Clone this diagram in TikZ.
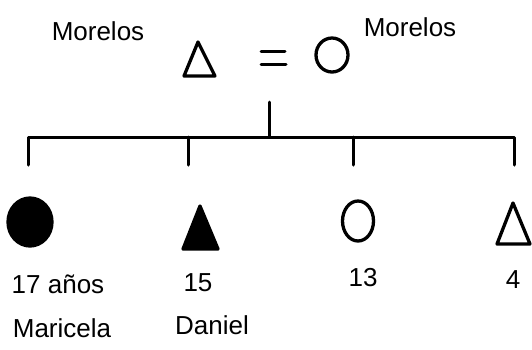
\documentclass[tikz,border=0pt]{standalone}
\usepackage{fontspec}
\setmainfont{Liberation Sans}
\usetikzlibrary{shapes.geometric}
\begin{document}
\begin{tikzpicture}[x=1pt,y=-1pt,line width=3pt,line join=round,line cap=round,
  lbl/.style={font=\fontsize{26}{28}\selectfont,inner sep=0pt},
  symb/.style={draw,line width=3.3pt,inner sep=0pt},
  female/.style={symb,ellipse},
  tree/.style={line width=3pt}]
\useasboundingbox (0,0) rectangle (532,349);
% parents
\draw[symb] (198,42) coordinate (fa) -- (215,76) coordinate (fb) -- (184,76) coordinate (fc) -- cycle;
\node[female,minimum width=32pt,minimum height=34pt] (mother) at (332,55) {};
\coordinate (eqa) at (261,51); \coordinate (eqb) at (285,51);
\coordinate (eqc) at (261,64); \coordinate (eqd) at (286,64);
\draw (eqa) -- (eqb) (eqc) -- (eqd);
\node[lbl] (m1) at (98,31) {Morelos};
\node[lbl] (m2) at (410,27) {Morelos};
% tree
\coordinate (top) at (269,102);
\coordinate (mid) at (269,137);
\coordinate (h1) at (28,137);  \coordinate (h4) at (514,137);
\coordinate (h2) at (188,137); \coordinate (h3) at (353,137);
\coordinate (d1) at (28,165);  \coordinate (d2) at (188,165);
\coordinate (d3) at (353,165); \coordinate (d4) at (514,165);
\draw[tree] (top) -- (mid);
\draw[tree] (d1) -- (h1) -- (h4) -- (d4);
\draw[tree] (h2) -- (d2);
\draw[tree] (h3) -- (d3);
% children
\node[female,fill=black,minimum width=44pt,minimum height=48pt] (c1) at (30,222) {};
\draw[symb,fill=black] (200,206) coordinate (c2a) -- (218,249) coordinate (c2b) -- (183,249) coordinate (c2c) -- cycle;
\node[female,minimum width=31pt,minimum height=40pt] (c3) at (358,221) {};
\draw[symb] (513,203) coordinate (c4a) -- (530,244) coordinate (c4b) -- (497,244) coordinate (c4c) -- cycle;
% labels
\node[lbl] (l1) at (58,284) {17 años};
\node[lbl] (l2) at (198,283) {15};
\node[lbl] (l3) at (363,278) {13};
\node[lbl] (l4) at (513,280) {4};
\node[lbl] (n1) at (62,328) {Maricela};
\node[lbl] (n2) at (212,325) {Daniel};
\end{tikzpicture}
\end{document}
